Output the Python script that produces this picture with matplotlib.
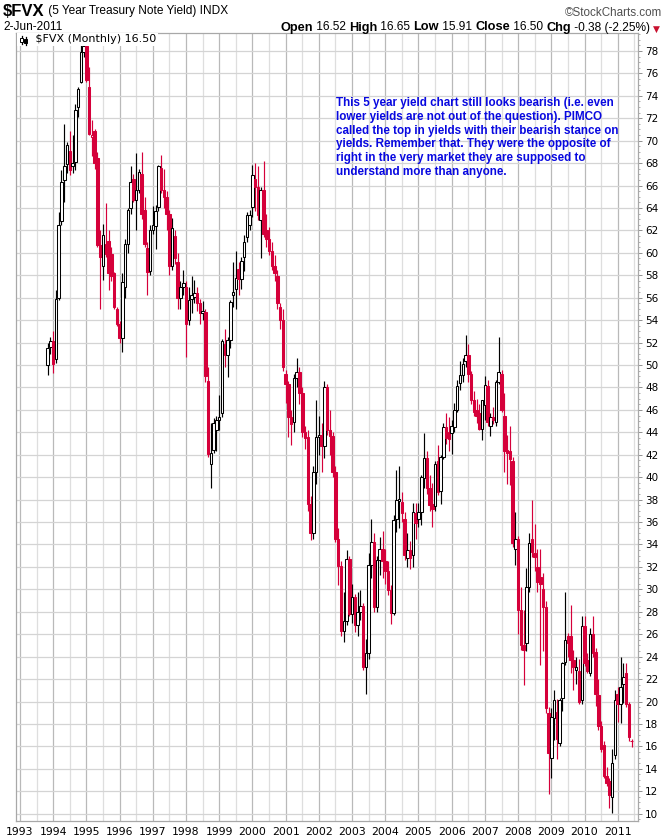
import matplotlib
matplotlib.use("Agg")
import matplotlib.pyplot as plt
from matplotlib.lines import Line2D
import numpy as np
import pandas as pd

# ---------------- data (monthly OHLC of $FVX, Nov-1993 .. Jun-2011) ----------------
first_month = "1993-11-01"

opens = [
    50.0, 51.6,
    52.1, 50.5, 56.0, 62.8, 66.5, 67.9, 69.1, 67.7, 68.1, 73.0, 75.2, 77.9,
    78.4, 74.8, 70.3, 70.9, 68.5, 60.7, 58.8, 60.8, 61.1, 59.9, 58.2, 55.0,
    53.7, 52.4, 57.0, 60.8, 64.0, 66.6, 64.7, 65.6, 67.0, 63.8, 60.4, 58.4,
    62.0, 62.4, 64.1, 67.6, 65.6, 65.0, 63.5, 58.8, 61.5, 59.2, 56.0, 57.0,
    57.0, 54.0, 55.9, 56.1, 56.4, 55.5, 54.6, 54.7, 48.6, 41.2, 42.4, 44.2,
    45.1, 45.7, 51.9, 50.9, 52.2, 56.2, 56.8, 58.6, 57.7, 59.6, 61.4, 62.5,
    64.1, 66.6, 65.9, 62.9, 65.6, 62.0, 61.2, 60.2, 58.8, 57.9, 55.2, 54.0,
    49.2, 48.3, 45.4, 44.9, 48.8, 49.4, 47.5, 44.0, 43.6, 37.6, 35.0, 40.5,
    43.6, 43.8, 42.8, 48.0, 44.2, 43.7, 40.5, 34.5, 32.1, 26.3, 27.2, 32.7,
    27.8, 29.3, 26.8, 28.0, 28.5, 23.1, 24.3, 32.2, 34.2, 28.4, 32.6, 33.6,
    32.5, 31.6, 29.9, 27.9, 36.3, 37.9, 37.8, 36.3, 32.8, 33.5, 33.1, 36.8,
    36.3, 36.9, 39.9, 41.7, 39.0, 37.6, 37.4, 41.4, 38.8, 41.8, 44.5, 44.0,
    43.9, 44.5, 46.0, 48.4, 49.1, 50.4, 50.9, 49.2, 46.9, 46.0, 45.7, 44.3,
    46.4, 48.1, 44.6, 45.4, 44.9, 48.5, 49.2, 45.5, 42.4, 42.3, 41.4, 33.6,
    34.5, 28.2, 25.0, 25.2, 30.2, 34.5, 33.2, 32.0, 31.1, 30.0, 28.4, 19.0,
    15.0, 18.5, 19.1, 16.3, 20.3, 23.5, 25.8, 25.8, 23.7, 22.8, 22.7, 20.1,
    26.7, 23.7, 22.5, 26.0, 24.4, 20.6, 17.8, 16.1, 13.4, 12.9, 11.5, 15.2,
    20.7, 19.8, 21.6, 22.5, 19.8, 16.52,
]
highs = [
    52.0, 52.5,
    53.0, 56.7, 63.6, 67.4, 71.5, 69.9, 70.9, 70.5, 73.3, 74.8, 78.8, 78.8,
    79.0, 76.6, 71.8, 71.0, 69.0, 62.0, 62.6, 64.4, 62.0, 60.5, 58.3, 55.2,
    53.9, 58.2, 61.2, 64.0, 67.7, 67.0, 68.9, 67.5, 69.0, 65.0, 61.0, 62.5,
    64.2, 64.3, 67.8, 68.7, 67.5, 65.5, 63.8, 63.1, 62.0, 60.0, 57.5, 58.5,
    57.5, 57.0, 57.9, 57.6, 57.0, 55.9, 55.7, 55.0, 49.8, 44.8, 45.3, 45.5,
    47.3, 52.3, 53.2, 52.5, 55.8, 59.2, 60.2, 59.2, 59.6, 61.6, 63.6, 63.8,
    67.8, 68.0, 67.7, 65.9, 68.2, 63.5, 62.3, 61.0, 59.8, 58.5, 55.5, 55.0,
    49.6, 48.6, 46.0, 49.2, 50.6, 49.8, 48.0, 44.6, 44.2, 38.3, 41.0, 46.9,
    45.5, 44.8, 48.6, 48.3, 46.0, 44.0, 41.0, 35.5, 32.5, 29.8, 33.5, 33.0,
    30.5, 29.6, 29.8, 29.9, 28.8, 25.6, 33.2, 36.3, 35.0, 33.0, 34.7, 35.2,
    33.6, 32.5, 30.4, 36.6, 40.6, 41.0, 38.7, 36.9, 35.0, 34.3, 37.7, 37.7,
    37.7, 40.2, 43.9, 42.3, 40.2, 39.5, 41.4, 42.9, 42.0, 44.8, 45.7, 45.4,
    45.1, 46.6, 48.7, 50.4, 50.6, 52.7, 51.9, 49.5, 47.7, 47.0, 46.5, 46.9,
    49.0, 48.7, 45.7, 46.3, 48.7, 52.5, 49.6, 47.5, 43.8, 44.6, 41.8, 36.9,
    34.8, 30.2, 28.2, 31.9, 35.0, 38.0, 35.8, 33.6, 33.6, 31.5, 29.0, 19.5,
    19.4, 21.0, 20.2, 20.3, 23.5, 29.8, 26.1, 28.6, 24.6, 24.0, 23.8, 27.6,
    27.6, 24.3, 26.6, 27.6, 24.8, 22.0, 18.3, 16.5, 14.2, 13.2, 15.8, 21.0,
    21.3, 24.0, 23.4, 23.4, 20.0, 16.65,
]
lows = [
    49.1, 51.0,
    49.3, 50.2, 55.8, 62.5, 64.5, 67.1, 66.9, 67.1, 67.4, 72.1, 75.1, 77.5,
    75.2, 70.5, 68.6, 67.5, 60.5, 55.0, 57.6, 59.6, 56.7, 57.5, 55.0, 53.5,
    52.0, 51.2, 56.0, 60.0, 63.5, 64.5, 62.0, 65.3, 63.0, 60.5, 56.2, 58.0,
    61.7, 60.3, 63.7, 65.3, 64.0, 62.0, 58.0, 58.5, 59.0, 55.0, 55.0, 56.2,
    50.7, 53.6, 54.6, 55.5, 54.8, 53.7, 54.0, 48.5, 41.8, 39.0, 42.2, 42.3,
    44.2, 45.4, 49.8, 48.9, 51.5, 55.2, 55.0, 56.2, 56.8, 58.4, 61.0, 62.0,
    63.2, 63.7, 62.9, 59.5, 61.4, 60.5, 59.8, 58.5, 57.5, 55.0, 53.2, 49.5,
    46.6, 43.6, 42.9, 44.0, 48.0, 46.5, 43.6, 42.5, 37.0, 34.4, 34.5, 39.4,
    42.0, 40.5, 41.7, 43.8, 42.0, 40.0, 34.2, 30.4, 25.8, 25.3, 26.8, 27.6,
    27.0, 26.2, 25.8, 27.3, 22.8, 20.7, 23.8, 31.0, 28.0, 28.0, 31.3, 31.0,
    30.5, 29.5, 26.9, 27.7, 35.1, 35.5, 36.0, 32.6, 32.0, 31.8, 32.0, 34.5,
    35.6, 35.7, 39.0, 38.5, 37.0, 35.6, 37.0, 38.4, 37.6, 41.6, 43.0, 42.3,
    42.1, 44.0, 45.8, 47.8, 48.5, 49.8, 48.5, 46.5, 45.5, 44.8, 44.2, 43.3,
    45.1, 44.6, 43.7, 44.7, 44.6, 48.3, 45.8, 40.5, 39.4, 39.3, 33.8, 32.2,
    26.0, 24.6, 21.5, 24.5, 29.8, 32.9, 31.6, 29.8, 23.3, 24.5, 19.0, 11.8,
    13.2, 16.6, 14.9, 16.0, 19.2, 23.3, 24.0, 22.5, 21.0, 21.6, 19.8, 19.8,
    23.2, 22.5, 22.3, 24.0, 19.6, 17.5, 15.5, 13.2, 12.5, 10.5, 10.1, 14.9,
    18.2, 18.1, 19.9, 19.5, 16.5, 15.91,
]
closes = [
    51.5, 52.1,
    50.1, 55.9, 62.5, 66.3, 67.7, 69.6, 67.4, 68.0, 72.7, 74.6, 77.9, 78.4,
    75.4, 70.6, 70.5, 68.0, 60.7, 59.6, 61.6, 59.9, 58.2, 57.9, 55.2, 53.7,
    52.4, 57.4, 60.8, 63.8, 66.3, 64.7, 65.6, 67.2, 63.5, 60.8, 58.3, 62.0,
    62.5, 63.7, 67.7, 65.6, 65.0, 63.5, 58.8, 62.2, 59.5, 56.0, 57.0, 57.3,
    53.7, 55.8, 56.2, 56.4, 55.5, 54.6, 54.8, 49.0, 42.1, 42.2, 44.8, 45.1,
    45.4, 52.1, 50.9, 52.2, 55.6, 56.5, 57.8, 57.7, 59.3, 61.0, 63.4, 63.4,
    66.9, 65.9, 63.4, 65.6, 61.7, 61.2, 60.2, 58.8, 58.2, 55.5, 54.0, 49.8,
    48.3, 45.4, 44.7, 48.8, 49.4, 47.5, 44.0, 43.5, 37.6, 35.0, 40.5, 43.6,
    43.8, 42.8, 48.0, 44.2, 43.7, 40.5, 34.5, 32.1, 26.3, 27.2, 32.7, 27.8,
    29.3, 26.8, 28.0, 28.5, 23.1, 24.3, 32.2, 34.2, 28.4, 32.6, 33.6, 32.5,
    31.6, 29.9, 27.9, 36.2, 38.0, 38.1, 36.8, 33.1, 33.5, 32.8, 36.9, 35.9,
    36.9, 40.0, 41.7, 39.0, 37.5, 37.2, 41.2, 38.7, 41.8, 44.5, 43.5, 43.4,
    44.6, 46.0, 48.1, 49.1, 50.1, 50.9, 49.2, 46.9, 45.8, 45.5, 44.3, 46.9,
    48.2, 44.9, 45.4, 45.1, 48.5, 49.4, 46.0, 42.3, 42.2, 41.6, 34.1, 34.5,
    28.2, 25.0, 24.6, 30.2, 34.1, 33.3, 32.9, 30.7, 30.5, 28.4, 19.4, 15.4,
    18.6, 20.1, 16.7, 20.1, 23.4, 25.5, 25.2, 23.7, 23.1, 23.1, 20.0, 26.7,
    23.4, 22.7, 26.0, 24.3, 20.7, 17.8, 15.8, 13.4, 12.7, 11.7, 14.5, 20.1,
    19.8, 21.3, 22.2, 19.8, 16.88, 16.50,
]

year_ticks = list(range(1993, 2012))
y_ticks = list(range(10, 80, 2))

note_lines = [
    "This 5 year yield chart still looks bearish (i.e. even",
    "lower yields are not out of the question). PIMCO",
    "called the top in yields with their bearish stance on",
    "yields. Remember that. They were the opposite of",
    "right in the very market they are supposed to",
    "understand more than anyone.",
]

# ---------------- figure ----------------
W, H = 670, 838
fig = plt.figure(figsize=(W / 100, H / 100), dpi=100)
fig.patch.set_facecolor("white")

def fx(px):
    return px / W

def fy(py):
    return 1 - py / H

ax = fig.add_axes([fx(16), fy(821), fx(638) - fx(16), fy(33) - fy(821)])

RED = "#d5003a"
BLACK = "#000000"

months = pd.date_range(first_month, periods=len(closes), freq="MS")
x = np.asarray(months.year + (months.month - 1) / 12.0, dtype=float)
o = np.asarray(opens)
hh = np.asarray(highs)
ll = np.asarray(lows)
c = np.asarray(closes)
prev = np.concatenate([[o[0]], c[:-1]])
cols = [BLACK if ci >= pi else RED for ci, pi in zip(c, prev)]
faces = ["white" if ci > oi else col for ci, oi, col in zip(c, o, cols)]

ax.vlines(x, ll, hh, colors=cols, linewidth=0.85, zorder=3)
ax.bar(x, np.abs(c - o), bottom=np.minimum(o, c), width=0.076,
       facecolor=faces, edgecolor=cols, linewidth=0.75, zorder=4, align="center")

ax.set_xlim(1992.88, 2011.61)
ax.set_ylim(9.35, 79.6)

# grid
ax.set_xticks(year_ticks)
ax.set_xticklabels([str(y) for y in year_ticks])
ax.set_xticks([y + 0.5 for y in year_ticks[:-1]] + [2011.5], minor=True)
ax.xaxis.grid(True, which="major", color="#b9b9b9", linewidth=0.9, zorder=0)
ax.xaxis.grid(True, which="minor", color="#dedede", linewidth=0.9, zorder=0)
ax.set_yticks(y_ticks)
ax.set_yticks(np.arange(9.5, 79.6, 0.5), minor=True)
ax.yaxis.grid(True, which="major", color="#d4d4d4", linewidth=0.9, zorder=0)
ax.set_axisbelow(True)

ax.yaxis.tick_right()
ax.tick_params(axis="y", which="major", length=3, width=0.7, color="#909090",
               labelsize=7.5, pad=2, labelcolor="#000000")
ax.tick_params(axis="y", which="minor", length=1.5, width=0.6, color="#a0a0a0")
ax.tick_params(axis="x", which="both", length=0, labelsize=7.8, pad=4)
for lab in ax.get_yticklabels() + ax.get_xticklabels():
    lab.set_family(["DejaVu Sans"])
for sp in ax.spines.values():
    sp.set_color("#a8a8a8")
    sp.set_linewidth(0.9)

# legend box inside plot
ax.text(0.0035, 0.9985, "     $FVX (Monthly) 16.50", transform=ax.transAxes,
        ha="left", va="top", fontsize=8, family=["DejaVu Sans"], zorder=10,
        bbox=dict(facecolor="white", edgecolor="none", pad=1.2))
# small candle icon
for px0, y0, y1, w0 in [(21.5, 36, 44, 0.9), (25.5, 37, 45, 0.9)]:
    fig.add_artist(Line2D([fx(px0), fx(px0)], [fy(y0), fy(y1)], color="black", lw=w0, zorder=20))
fig.add_artist(plt.Rectangle((fx(20.2), fy(42.5)), fx(2.6), fy(38) - fy(42.5),
                             transform=fig.transFigure, facecolor="white",
                             edgecolor="black", lw=0.7, zorder=21))
fig.add_artist(plt.Rectangle((fx(24.2), fy(43.5)), fx(2.6), fy(39) - fy(43.5),
                             transform=fig.transFigure, facecolor="black",
                             edgecolor="black", lw=0.7, zorder=21))

# annotation
for i, line in enumerate(note_lines):
    fig.text(fx(336), fy(103 + i * 13.8), line, ha="left", va="center",
             fontsize=8.4, fontweight="bold", color="#0808e0",
             family=["Liberation Sans", "DejaVu Sans"], zorder=30)

# ---------------- header ----------------
hdr_fam = ["Liberation Sans Narrow", "Liberation Sans", "DejaVu Sans"]
t0 = fig.text(fx(3), fy(19), "$FVX", ha="left", va="bottom", fontsize=12,
              fontweight="bold", family=hdr_fam)
ax_ann = fig.add_axes([0, 0, 1, 1], frameon=False)
ax_ann.set_axis_off()
ax_ann.annotate(" (5 Year Treasury Note Yield) INDX", xy=(1, 0), xycoords=t0,
                ha="left", va="bottom", fontsize=8.6, family=hdr_fam,
                xytext=(0, 1.2), textcoords="offset points")
fig.text(fx(3), fy(33), "2-Jun-2011", ha="left", va="bottom", fontsize=8.6,
         family=hdr_fam)
fig.text(fx(662), fy(19), "\u00a9StockCharts.com", ha="right", va="bottom",
         fontsize=8.4, color="#505050", family=["Liberation Sans", "DejaVu Sans"])

pieces = [("Open", True), (" 16.52 ", False), ("High", True), (" 16.65 ", False),
          ("Low", True), (" 15.91 ", False), ("Close", True), (" 16.50 ", False),
          ("Chg", True), (" -0.38 (-2.25%) ", False)]
arrow = fig.text(fx(660), fy(33.5), "\u25bc", ha="right", va="bottom",
                 fontsize=6.5, color="#c8102e", family=["DejaVu Sans"])
prev_t = arrow
for txt, bold in reversed(pieces):
    prev_t = ax_ann.annotate(txt, xy=(0, 0), xycoords=prev_t, ha="right", va="bottom",
                             fontsize=9.2 if bold else 8.6,
                             fontweight="bold" if bold else "normal",
                             family=hdr_fam, xytext=(0, 0), textcoords="offset points")

fig.savefig("out.png", dpi=100, facecolor="white")
